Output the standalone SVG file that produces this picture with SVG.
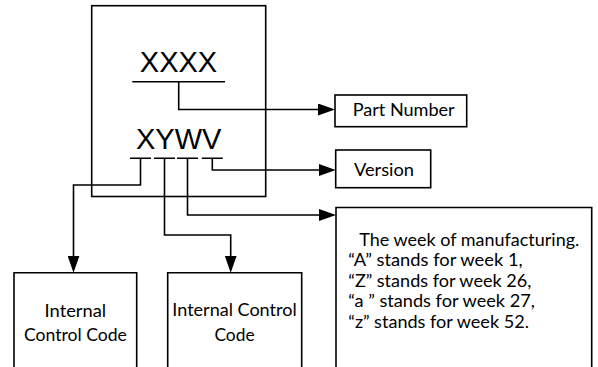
<svg xmlns="http://www.w3.org/2000/svg" width="598" height="367" viewBox="0 0 598 367">
<style>
.box{fill:#fff;stroke:#000;stroke-width:1.6}
.ln{fill:none;stroke:#000;stroke-width:1.6}
.code{font-family:"Liberation Sans",Arial,sans-serif;font-size:29px;fill:#000}
.t{font-family:Lato,"Noto Sans",sans-serif;font-size:18px;fill:#000}
</style>
<defs>
<marker id="arr" markerUnits="userSpaceOnUse" markerWidth="17" markerHeight="12" refX="14" refY="6" orient="auto">
<path d="M0,0 L17,6 L0,12 Z" fill="#000"/>
</marker>
</defs>
<rect width="598" height="367" fill="#fff"/>
<g id="marking">
<rect class="box" x="91.7" y="5.7" width="174" height="190.8"/>
<text class="code" x="178.5" y="71.5" text-anchor="middle">XXXX</text>
<line class="ln" x1="132.3" y1="81.7" x2="225" y2="81.7"/>
<text class="code" x="136" y="148.5">XYWV</text>
<path class="ln" d="M130,158.3H151M154,158.3H175M177,158.3H198M201.8,158.3H222.8"/>
</g>
<g id="part-number">
<rect class="box" x="335" y="95" width="131.7" height="31.7"/>
<text class="t" x="352.7" y="116" textLength="102" lengthAdjust="spacingAndGlyphs">Part Number</text>
</g>
<g id="version">
<rect class="box" x="335.7" y="150" width="95" height="37.7"/>
<text class="t" x="354" y="176" textLength="60" lengthAdjust="spacingAndGlyphs">Version</text>
</g>
<g id="week">
<path class="box" d="M336,375V207.5H591.7V375"/>
<text class="t" x="359.3" y="245.5" textLength="220" lengthAdjust="spacingAndGlyphs">The week of manufacturing.</text>
<text class="t" x="348.3" y="266" textLength="174.4" lengthAdjust="spacingAndGlyphs">“A” stands for week 1,</text>
<text class="t" x="348.3" y="286.5" textLength="183" lengthAdjust="spacingAndGlyphs">“Z” stands for week 26,</text>
<text class="t" x="348.3" y="307" textLength="186.6" lengthAdjust="spacingAndGlyphs">“a ” stands for week 27,</text>
<text class="t" x="348.3" y="327.5" textLength="180.6" lengthAdjust="spacingAndGlyphs">“z” stands for week 52.</text>
</g>
<g id="icc1">
<path class="box" d="M14,375V272.7H136.7V375"/>
<text class="t" x="75.4" y="316.5" text-anchor="middle" textLength="61.6" lengthAdjust="spacingAndGlyphs">Internal</text>
<text class="t" x="75.4" y="340.5" text-anchor="middle" textLength="103" lengthAdjust="spacingAndGlyphs">Control Code</text>
</g>
<g id="icc2">
<path class="box" d="M167.7,375V272.7H301.7V375"/>
<text class="t" x="234.5" y="316" text-anchor="middle" textLength="124.4" lengthAdjust="spacingAndGlyphs">Internal Control</text>
<text class="t" x="234.5" y="340.5" text-anchor="middle" textLength="40.2" lengthAdjust="spacingAndGlyphs">Code</text>
</g>
<g id="connectors">
<path class="ln" marker-end="url(#arr)" d="M178.7,81.7V109.5H332"/>
<path class="ln" marker-end="url(#arr)" d="M212.3,158.3V170H332.7"/>
<path class="ln" marker-end="url(#arr)" d="M187.5,158.3V215H333"/>
<path class="ln" marker-end="url(#arr)" d="M140.5,158.3V185H73.5V269.7"/>
<path class="ln" marker-end="url(#arr)" d="M164.5,158.3V235H230.7V269.7"/>
</g>
</svg>
